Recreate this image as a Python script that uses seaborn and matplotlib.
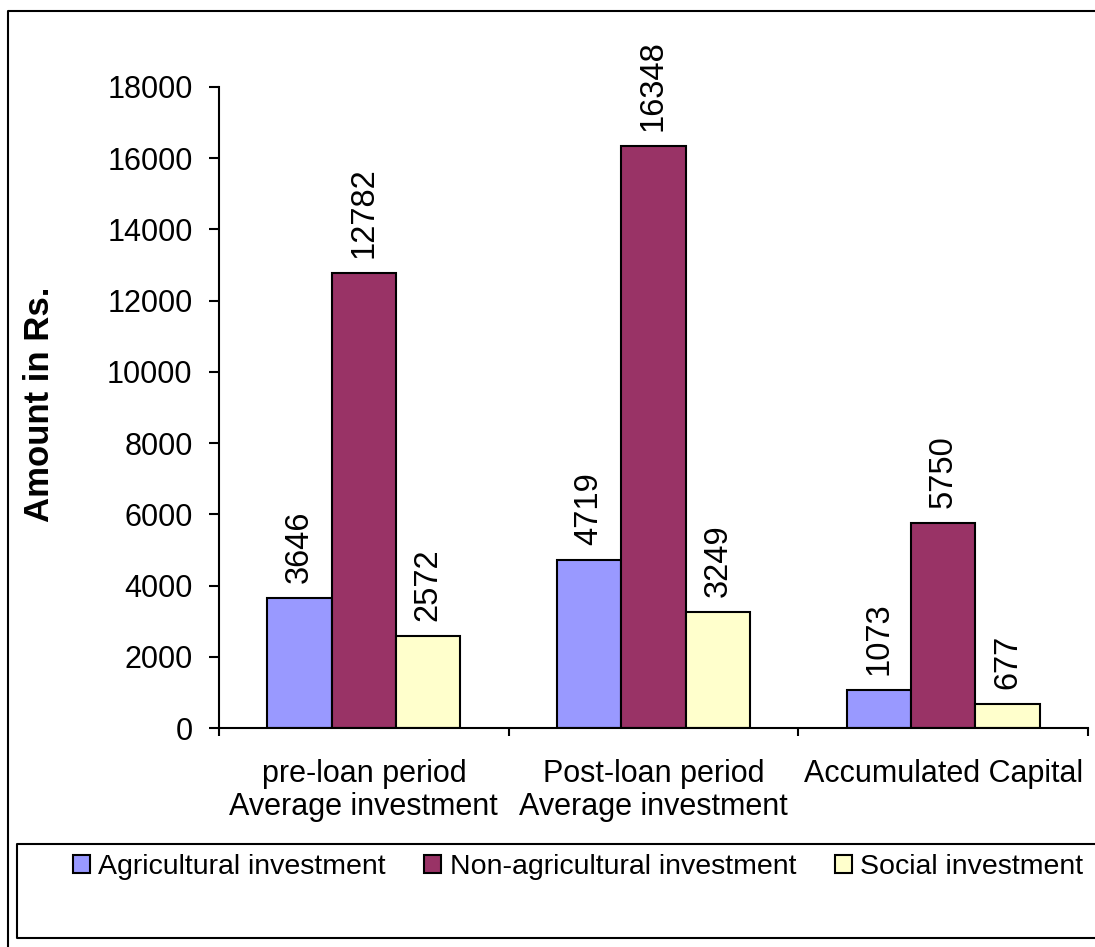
import matplotlib
matplotlib.use("Agg")
import matplotlib.pyplot as plt
import seaborn as sns
import pandas as pd
from matplotlib.lines import Line2D

categories = ["pre-loan period\nAverage investment",
              "Post-loan period\nAverage investment",
              "Accumulated Capital"]
series = ["Agricultural investment", "Non-agricultural investment", "Social investment"]
agricultural = [3646, 4719, 1073]
non_agricultural = [12782, 16348, 5750]
social = [2572, 3249, 677]
colors = ["#9999FF", "#993366", "#FFFFCC"]
yticks = [0, 2000, 4000, 6000, 8000, 10000, 12000, 14000, 16000, 18000]

plt.rcParams["font.family"] = ["Liberation Sans", "DejaVu Sans"]

df = pd.DataFrame({
    "category": categories * 3,
    "series": [s for s in series for _ in categories],
    "amount": agricultural + non_agricultural + social,
})

W, H = 1095, 947
fig = plt.figure(figsize=(W / 100, H / 100), dpi=100)
ax = fig.add_axes([219 / W, 1 - 728 / H, (1088 - 219) / W, (728 - 87) / H])

sns.barplot(data=df, x="category", y="amount", hue="series", hue_order=series,
            order=categories, palette=colors, width=0.667, gap=0,
            edgecolor="black", linewidth=1.5, saturation=1, ax=ax)

# value labels above each bar
for cont, vals in zip(ax.containers, [agricultural, non_agricultural, social]):
    ax.bar_label(cont, labels=[str(v) for v in vals], rotation=90,
                 padding=11, fontsize=23.5)

ax.set_ylim(0, 18000)
ax.set_yticks(yticks)
ax.set_xlim(-0.5, 2.5)
ax.set_xticks([0, 1, 2])
ax.set_xticklabels(categories, fontsize=22, linespacing=1.15)
ax.set_xticks([-0.5, 0.5, 1.5, 2.5], minor=True)
ax.tick_params(axis="x", which="major", length=0, pad=22)
ax.tick_params(axis="x", which="minor", length=6, width=1.5, direction="out", color="black")
ax.tick_params(axis="y", length=7, width=1.5, direction="out", pad=12,
               labelsize=22, color="black")
ax.set_xlabel("")
ax.set_ylabel("Amount in Rs.", fontsize=25, fontweight="bold")
ax.yaxis.set_label_coords((40 - 219) / (1088 - 219), (728 - 404) / (728 - 87))
ax.yaxis.label.set_va("center")

for side in ("top", "right"):
    ax.spines[side].set_visible(False)
for side in ("left", "bottom"):
    ax.spines[side].set_linewidth(1.5)
    ax.spines[side].set_color("black")
ax.grid(False)

handles, labels = ax.get_legend_handles_labels()
ax.get_legend().remove()
fig.legend(handles, labels, loc="center", bbox_to_anchor=(578 / W, 1 - 867 / H),
           ncol=3, frameon=False, fontsize=20.5, handlelength=0.6, handleheight=0.6,
           handletextpad=0.3, columnspacing=1.35, borderpad=0)


def fig_line(xs, ys):
    fig.add_artist(Line2D([x / W for x in xs], [1 - y / H for y in ys],
                          transform=fig.transFigure, color="black",
                          linewidth=1.5, zorder=0))


# outer chart border (open towards the right and bottom edges)
fig_line([8, 8, W], [H, 11, 11])
# legend frame
fig_line([W, 17, 17, W], [844, 844, 938, 938])

fig.savefig("out.png", dpi=100)
